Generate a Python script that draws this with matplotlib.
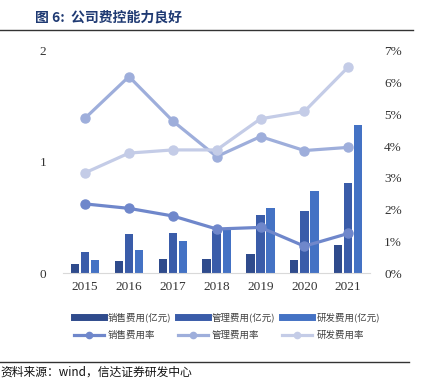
import numpy as np
import matplotlib.pyplot as plt
from matplotlib.lines import Line2D

plt.rcParams['font.family'] = ['Noto Sans CJK SC', 'DejaVu Sans']

# data
years = ['2015', '2016', '2017', '2018', '2019', '2020', '2021']
sales_fee = [0.08, 0.11, 0.13, 0.13, 0.17, 0.12, 0.25]     # 亿元
admin_fee = [0.19, 0.35, 0.36, 0.38, 0.52, 0.56, 0.81]
rd_fee = [0.12, 0.21, 0.29, 0.39, 0.59, 0.74, 1.33]
sales_rate = [2.18, 2.04, 1.80, 1.39, 1.44, 0.85, 1.25]    # %
admin_rate = [4.88, 6.19, 4.79, 3.67, 4.30, 3.86, 3.96]
rd_rate = [3.16, 3.78, 3.88, 3.88, 4.86, 5.09, 6.49]

bar_cols = ['#2f4b8c', '#3a5ca9', '#4472c4']
line_cols = ['#6f87cb', '#9eaedb', '#c4cce7']
serif = 'Liberation Serif'

fig = plt.figure(figsize=(4.24, 3.88), dpi=100)
ax = fig.add_axes([0.149, 0.296, 0.724, 0.573])
ax2 = ax.twinx()

x = np.arange(len(years))
w = 0.19
for i, vals in enumerate([sales_fee, admin_fee, rd_fee]):
    ax.bar(x + (i - 1) * 0.23, vals, w, color=bar_cols[i], zorder=2)

for i, vals in enumerate([sales_rate, admin_rate, rd_rate]):
    ax2.plot(x, vals, color=line_cols[i], lw=2.3, marker='o', ms=6.5, zorder=3)

ax.set_xlim(-0.5, 6.5)
ax.set_ylim(0, 2)
ax.set_yticks([0, 1, 2])
ax2.set_ylim(0, 7)
ax2.set_yticks(range(8))
ax2.set_yticklabels([f'{v}%' for v in range(8)])
ax.set_xticks(x)
ax.set_xticklabels(years)

for a in (ax, ax2):
    for s in a.spines.values():
        s.set_visible(False)
    a.tick_params(length=0, labelsize=9.5, colors='#333333')
    for lab in a.get_xticklabels() + a.get_yticklabels():
        lab.set_fontfamily(serif)
ax.spines['bottom'].set_visible(True)
ax.spines['bottom'].set_color('#d9d9d9')
ax.tick_params(axis='y', pad=12)
ax2.tick_params(axis='y', pad=10)
ax.tick_params(axis='x', pad=6)
ax.set_zorder(ax2.get_zorder() - 1)
ax2.patch.set_visible(False)

handles = []
labels = []
bar_names = ['销售费用(亿元)', '管理费用(亿元)', '研发费用(亿元)']
line_names = ['销售费用率', '管理费用率', '研发费用率']
for i in range(3):
    handles.append(Line2D([0], [0], color=bar_cols[i], lw=5))
    labels.append(bar_names[i])
    handles.append(Line2D([0], [0], color=line_cols[i], lw=2.3, marker='o', ms=4.5))
    labels.append(line_names[i])
fig.legend(handles, labels, ncol=3, loc='center', bbox_to_anchor=(0.535, 0.159),
           frameon=False, fontsize=6.8, handlelength=3.2, columnspacing=0.7,
           handletextpad=0.4, labelspacing=0.95, labelcolor='#404040')

# title and source
fig.text(0.083, 0.955, '图 6:  公司费控能力良好', fontsize=10, fontweight='bold',
         color='#1f3a73', va='center')
fig.add_artist(Line2D([0, 0.975], [0.922, 0.922], color='#333333', lw=1))
fig.add_artist(Line2D([0, 0.965], [0.068, 0.068], color='#333333', lw=1))
fig.text(0.0, 0.04, '资料来源：wind，信达证券研发中心', fontsize=8.5, style='italic',
         color='#111111', va='center')

fig.savefig('out.png', dpi=100)
